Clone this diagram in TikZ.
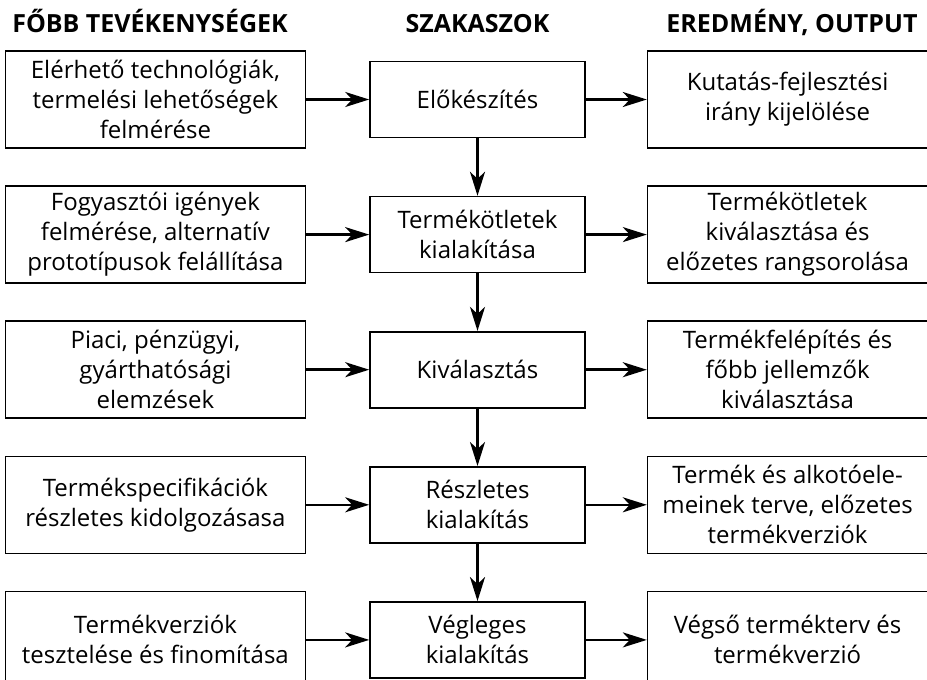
\documentclass[tikz,border=0pt]{standalone}
\usepackage{fontspec}
\setmainfont{Open Sans}
\usetikzlibrary{arrows.meta,positioning}

\begin{document}
\begin{tikzpicture}[
  x=1pt, y=1pt,
  node distance=57.5pt and 63pt,
  txt/.style={font=\fontsize{24}{30}\selectfont},
  act/.style={draw, txt, line width=1.6pt, minimum width=300pt, minimum height=97pt, align=center, inner sep=0pt},
  stage/.style={act, minimum width=215pt, minimum height=76pt},
  res/.style={act, minimum width=280pt},
  head/.style={font=\fontsize{25}{30}\selectfont\bfseries, anchor=base},
  arr/.style={-{Stealth[length=24pt, width=15pt, inset=7pt]}, line width=2.6pt}
]
\useasboundingbox (0,0) rectangle (927,-680);

\node[head] (h1) at (150,-32) {FŐBB TEVÉKENYSÉGEK};
\node[head] (h2) at (477.5,-32) {SZAKASZOK};
\node[head] (h3) at (792,-32) {EREDMÉNY, OUTPUT};

\node[stage] (s1) at (477.5,-99.5) {Előkészítés};
\node[stage, below=of s1] (s2) {Termékötletek\\kialakítása};
\node[stage, below=of s2] (s3) {Kiválasztás};
\node[stage, below=of s3] (s4) {Részletes\\kialakítás};
\node[stage, below=of s4] (s5) {Végleges\\kialakítás};

\node[act, left=of s1] (a1) {Elérhető technológiák,\\termelési lehetőségek\\felmérése};
\node[act, left=of s2] (a2) {Fogyasztói igények\\felmérése, alternatív\\prototípusok felállítása};
\node[act, left=of s3] (a3) {Piaci, pénzügyi,\\gyárthatósági\\elemzések};
\node[act, left=of s4] (a4) {Termékspecifikációk\\részletes kidolgozásasa};
\node[act, left=of s5] (a5) {Termékverziók\\tesztelése és finomítása};

\node[res, right=61pt of s1] (r1) {Kutatás-fejlesztési\\irány kijelölése};
\node[res, right=61pt of s2] (r2) {Termékötletek\\kiválasztása és\\előzetes rangsorolása};
\node[res, right=61pt of s3] (r3) {Termékfelépítés és\\főbb jellemzők\\kiválasztása};
\node[res, right=61pt of s4] (r4) {Termék és alkotóele-\\meinek terve, előzetes\\termékverziók};
\node[res, right=61pt of s5] (r5) {Végső termékterv és\\termékverzió};

\draw[arr] (a1) -- (s1);
\draw[arr] (a2) -- (s2);
\draw[arr] (a3) -- (s3);
\draw[arr] (a4) -- (s4);
\draw[arr] (a5) -- (s5);
\draw[arr] (s1) -- (r1);
\draw[arr] (s2) -- (r2);
\draw[arr] (s3) -- (r3);
\draw[arr] (s4) -- (r4);
\draw[arr] (s5) -- (r5);
\draw[arr] (s1) -- (s2);
\draw[arr] (s2) -- (s3);
\draw[arr] (s3) -- (s4);
\draw[arr] (s4) -- (s5);
\end{tikzpicture}
\end{document}
